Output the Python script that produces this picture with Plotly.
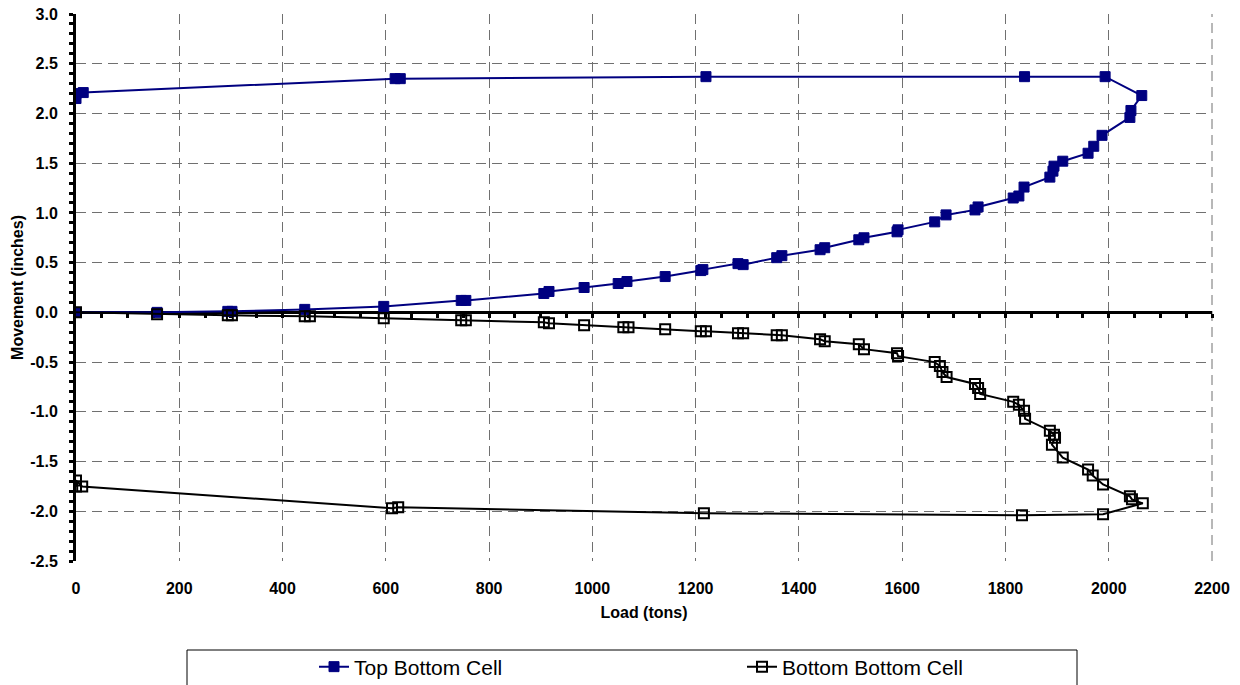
import plotly.graph_objects as go

top_load = [0, 157, 294, 302, 443, 596, 746, 755, 906, 916, 984, 1050, 1067, 1141, 1210,
            1214, 1282, 1292, 1357, 1367, 1441, 1450, 1516, 1526, 1590, 1592, 1663, 1685,
            1741, 1747, 1815, 1826, 1836, 1886, 1892, 1894, 1911, 1960, 1971, 1987, 2041,
            2043, 2064, 1993, 1837, 1220, 628, 618, 14, 0, 0]
top_move = [0, 0, 0.01, 0.01, 0.03, 0.06, 0.12, 0.12, 0.19, 0.21, 0.25, 0.29, 0.31, 0.36, 0.42,
            0.43, 0.49, 0.48, 0.55, 0.57, 0.63, 0.65, 0.73, 0.75, 0.81, 0.83, 0.91, 0.98,
            1.03, 1.06, 1.15, 1.17, 1.26, 1.36, 1.42, 1.47, 1.52, 1.60, 1.67, 1.78, 1.96,
            2.03, 2.18, 2.37, 2.37, 2.37, 2.35, 2.35, 2.21, 2.15, 2.20]

bot_load = [0, 157, 294, 302, 443, 453, 596, 746, 755, 906, 916, 984, 1060, 1070, 1141, 1210,
            1220, 1282, 1292, 1357, 1367, 1441, 1450, 1516, 1526, 1590, 1592, 1663, 1673,
            1678, 1686, 1741, 1747, 1751, 1815, 1826, 1836, 1838, 1886, 1894, 1896, 1890,
            1911, 1960, 1969, 1989, 2041, 2045, 2066, 1989, 1832, 1216, 624, 612, 12, 0, 0]
bot_move = [0, -0.02, -0.03, -0.03, -0.04, -0.04, -0.06, -0.08, -0.08, -0.10, -0.11, -0.13,
            -0.15, -0.15, -0.17, -0.19, -0.19, -0.21, -0.21, -0.23, -0.23, -0.27, -0.29,
            -0.32, -0.37, -0.41, -0.44, -0.50, -0.54, -0.60, -0.65, -0.72, -0.76, -0.82,
            -0.90, -0.93, -0.99, -1.07, -1.19, -1.23, -1.26, -1.33, -1.46, -1.58, -1.64,
            -1.73, -1.85, -1.88, -1.92, -2.03, -2.04, -2.02, -1.96, -1.97, -1.75, -1.69, -1.75]

series_names = ["Top Bottom Cell", "Bottom Bottom Cell"]

x_tickvals = [0, 200, 400, 600, 800, 1000, 1200, 1400, 1600, 1800, 2000, 2200]
x_ticklabels = ["0", "200", "400", "600", "800", "1000", "1200", "1400", "1600", "1800", "2000", "2200"]
y_tickvals = [-2.5, -2.0, -1.5, -1.0, -0.5, 0.0, 0.5, 1.0, 1.5, 2.0, 2.5, 3.0]
y_ticklabels = ["-2.5", "-2.0", "-1.5", "-1.0", "-0.5", "0.0", "0.5", "1.0", "1.5", "2.0", "2.5", "3.0"]

FONT = "Arial"
PW = 1136.0   # plot width in px
PH = 547.0    # plot height in px

fig = go.Figure()
fig.add_trace(go.Scatter(
    x=top_load, y=top_move, name=series_names[0], mode="lines+markers", legend="legend",
    line=dict(color="#000080", width=2),
    marker=dict(symbol="square", size=10, color="#000080", line=dict(color="#000080", width=1)),
))
fig.add_trace(go.Scatter(
    x=bot_load, y=bot_move, name=series_names[1], mode="lines+markers", legend="legend2",
    line=dict(color="black", width=2),
    marker=dict(symbol="square-open", size=10, color="black", line=dict(width=2)),
))
# carrier for the axis drawn along y = 0
fig.add_trace(go.Scatter(x=[None], y=[None], xaxis="x2", showlegend=False, hoverinfo="skip"))

legend_common = dict(
    orientation="h", xanchor="left", yanchor="middle",
    xref="container", yref="container",
    y=1 - 667 / 685.0,
    font=dict(family=FONT, size=21, color="black"),
    bgcolor="rgba(0,0,0,0)", borderwidth=0,
)

GRID = dict(showgrid=True, gridcolor="#707070", griddash="10px,6px", gridwidth=1)
TICKFONT = dict(family=FONT, size=16, color="black")

fig.update_layout(
    width=1240, height=685,
    margin=dict(l=76, r=28, t=14, b=124, autoexpand=False),
    paper_bgcolor="white", plot_bgcolor="white",
    font=dict(family=FONT, color="black"),
    showlegend=True,
    legend=dict(x=314 / 1240.0, **legend_common),
    legend2=dict(x=742 / 1240.0, **legend_common),
    xaxis=dict(
        range=[0, 2200], tickmode="array", tickvals=x_tickvals,
        ticktext=["<b>%s</b>" % t for t in x_ticklabels],
        showline=False, zeroline=False, ticks="", ticklabelstandoff=16,
        tickfont=TICKFONT, automargin=False, **GRID,
        title=dict(text="<b>Load (tons)</b>", font=TICKFONT, standoff=10),
    ),
    xaxis2=dict(
        overlaying="x", anchor="free", position=2.5 / 5.5, range=[0, 2200],
        showline=True, linecolor="black", linewidth=3,
        ticks="outside", ticklen=4, tickwidth=3, tickcolor="black", dtick=200, tick0=0,
        minor=dict(ticks="outside", ticklen=4, tickwidth=3, tickcolor="black", dtick=50),
        showgrid=False, zeroline=False, showticklabels=False, layer="below traces",
        automargin=False,
    ),
    yaxis=dict(
        range=[-2.5, 3.0], tickmode="array", tickvals=y_tickvals,
        ticktext=["<b>%s</b>" % t for t in y_ticklabels],
        showline=True, linecolor="black", linewidth=3,
        ticks="outside", ticklen=4, tickwidth=3, tickcolor="black",
        minor=dict(ticks="outside", ticklen=4, tickwidth=3, tickcolor="black", dtick=0.1),
        zeroline=False, layer="below traces", ticklabelstandoff=8,
        tickfont=TICKFONT, automargin=False, **GRID,
        title=dict(text="<b>Movement (inches)</b>", font=TICKFONT, standoff=3),
    ),
    shapes=[
        dict(type="rect", xref="paper", yref="paper",
             x0=(187 - 76) / PW, x1=(1077 - 76) / PW,
             y0=(561 - 700) / PH, y1=(561 - 650) / PH,
             line=dict(color="black", width=1), fillcolor="rgba(0,0,0,0)", layer="above"),
        dict(type="line", xref="paper", yref="paper", x0=1, x1=1, y0=0, y1=1,
             line=dict(color="#707070", width=1, dash="10px,6px"), layer="below"),
    ],
)

fig.write_html("out.html")
